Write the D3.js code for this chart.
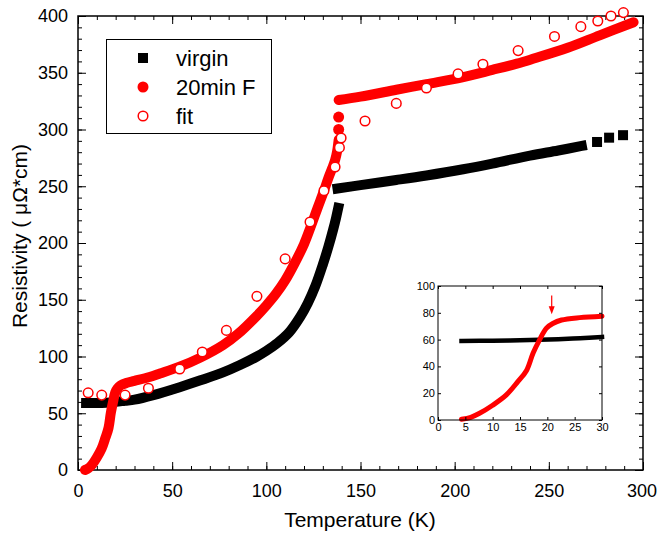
<!DOCTYPE html>
<html>
<head>
<meta charset="utf-8">
<script src="https://cdn.jsdelivr.net/npm/d3@7/dist/d3.min.js"></script>
<style>
  body { margin: 0; background: #fff; }
  text { font-family: "Liberation Sans", Arial, sans-serif; }
</style>
</head>
<body>
<div id="chart-area"></div>
<script>
//1. Data (T in K, resistivity in µΩ*cm)
var virgin_low_T = [4.3, 10, 15, 20, 25, 30, 40, 54, 65, 77, 86, 95, 100, 106, 112, 118, 122, 126, 130, 133, 135.5, 137, 138.2];
var virgin_low_R = [59, 59, 59.3, 60, 61, 62, 66, 73, 79, 86, 92.5, 100, 105, 112, 121, 135, 147, 162, 181, 197, 212, 222, 231];
var virgin_high_T = [137.8, 150, 169, 185, 204.5, 220, 240, 255, 267.5];
var virgin_high_R = [248, 251, 255.5, 259.5, 265, 270, 277, 281.5, 285.5];
var virgin_sparse_T = [275.6, 282, 289.4];
var virgin_sparse_R = [289, 292.8, 295];

var f20_low_T = [3.7, 5.5, 7.6, 10, 12.5, 14.6, 16.2, 17.4, 18.6, 19.8, 21, 22.6, 26, 30, 38, 43.5, 54, 65, 77, 85, 95, 100, 105, 110, 115, 120, 123.5, 127, 130.6, 133, 135, 136.5, 137.5, 138.4];
var f20_low_R = [0, 1.5, 5, 11, 18.7, 28.6, 37, 50, 60, 68.4, 72, 74.6, 76.8, 78.5, 82, 85, 91, 99, 110, 120, 136, 145, 155, 167, 182, 199, 214, 230, 246, 257.5, 266, 273, 280, 291];
var f20_sparse_T = [138.4, 138.4];
var f20_sparse_R = [300, 311];
var f20_high_T = [138.4, 150, 169, 185, 204, 220, 233, 242, 260, 277, 295];
var f20_high_R = [326, 329, 335, 340, 346, 352.5, 358, 362.5, 372, 383, 394.5];

var fit_T = [5.4, 12.6, 25, 37.4, 54, 66, 78.8, 95, 110, 123.2, 130.6, 136.5, 138.8, 139.7, 152.4, 169, 185, 201.8, 215, 233.7, 253, 267, 276, 283, 289.6];
var fit_R = [68, 66, 66, 72, 89, 104, 123, 153, 186, 218.5, 246, 267, 284, 292.5, 307.5, 323, 336.6, 349, 357.5, 369.5, 382, 390.6, 395.6, 400, 403];

// inset (zoom 0-30 K)
var inset_virgin_T = [4.3, 10, 16.8, 22, 26, 30];
var inset_virgin_R = [59, 59.2, 59.7, 60.3, 61, 62];
var inset_f20_T = [4.3, 6, 7.6, 10, 12.5, 14.6, 16.2, 17.4, 18.6, 19.8, 21, 22.6, 25.9, 30];
var inset_f20_R = [0.5, 2, 5, 11, 18.7, 28.6, 37, 50, 60, 68.4, 72, 74.6, 76.4, 77.5];
var arrow_T = 20.8;
var arrow_R = [93, 79];

var x_ticks_major = [0, 50, 100, 150, 200, 250, 300];
var y_ticks_major = [0, 50, 100, 150, 200, 250, 300, 350, 400];
var inset_x_ticks = [0, 5, 10, 15, 20, 25, 30];
var inset_y_ticks = [0, 20, 40, 60, 80, 100];

var legend_labels = ["virgin", "20min F", "fit"];

function pairs(T, R) {
    return T.map(function (t, i) { return [t, R[i]]; });
}

//2. SVG canvas
var svg_width = 657, svg_height = 540;
var svg = d3.select("#chart-area").append("svg")
    .attr("width", svg_width)
    .attr("height", svg_height);

//3. Scales
var x_scaling = d3.scaleLinear().domain([0, 300]).range([78, 643]);
var y_scaling = d3.scaleLinear().domain([0, 400]).range([470, 16]);

var ix = d3.scaleLinear().domain([0, 30]).range([438, 602]);
var iy = d3.scaleLinear().domain([0, 100]).range([420, 286]);

//4. Axes (ticks inward, on all four sides)
function tick_axes(g, xs, ys, xMajor, yMajor, xMinor, yMinor, majLen, minLen, fontSize, xPad, yPad, frameW) {
    var x0 = xs.range()[0], x1 = xs.range()[1], y0 = ys.range()[0], y1 = ys.range()[1];
    var sets = [
        [d3.axisBottom, "translate(0," + y0 + ")", xMajor, xMinor, true, xPad, xs, "x_axis"],
        [d3.axisTop, "translate(0," + y1 + ")", xMajor, xMinor, false, 0, xs, "x_top"],
        [d3.axisLeft, "translate(" + x0 + ",0)", yMajor, yMinor, true, yPad, ys, "y_axis"],
        [d3.axisRight, "translate(" + x1 + ",0)", yMajor, yMinor, false, 0, ys, "y_right"]
    ];
    sets.forEach(function (s) {
        if (s[3]) {
            var ax = g.append("g").attr("transform", s[1])
                .call(s[0](s[6]).tickValues(s[3]).tickSize(-minLen).tickFormat(""));
            ax.select(".domain").remove();
        }
        var axm = g.append("g").attr("class", s[7]).attr("transform", s[1])
            .call(s[0](s[6]).tickValues(s[2]).tickSize(-majLen).tickPadding(s[5])
                .tickFormat(s[4] ? d3.format("d") : ""));
        axm.select(".domain").remove();
        axm.selectAll("text").attr("font-size", fontSize + "px").attr("fill", "#000")
            .style("font-family", "'Liberation Sans', Arial, sans-serif");
    });
    g.selectAll(".tick line").attr("stroke", "#000").attr("stroke-width", 1);
    g.append("rect")
        .attr("x", x0).attr("y", y1)
        .attr("width", x1 - x0).attr("height", y0 - y1)
        .attr("fill", "none").attr("stroke", "#000").attr("stroke-width", frameW);
}

var main_axes = svg.append("g").attr("class", "main_axes");
tick_axes(main_axes, x_scaling, y_scaling,
    x_ticks_major, y_ticks_major,
    d3.range(0, 301, 10), d3.range(0, 401, 10),
    8, 4, 18, 14, 10, 1.5);
// keep the last x label inside the window
main_axes.select(".x_axis").selectAll(".tick text")
    .filter(function (d) { return d == 300; })
    .attr("dx", "-1.5");

//5. Labels
svg.append("text")
    .attr("x", 360).attr("y", 527)
    .attr("text-anchor", "middle")
    .attr("font-size", "21px")
    .text("Temperature (K)");

svg.append("text")
    .attr("transform", "translate(27,236) rotate(-90)")
    .attr("text-anchor", "middle")
    .attr("font-size", "21px")
    .text("Resistivity ( \u03bc\u03a9*cm)");

//6. Data
var line_main = d3.line()
    .x(function (d) { return x_scaling(d[0]); })
    .y(function (d) { return y_scaling(d[1]); })
    .curve(d3.curveCatmullRom.alpha(0.5));

var plot = svg.append("g").attr("class", "plot");

// virgin (dense black squares)
[pairs(virgin_low_T, virgin_low_R), pairs(virgin_high_T, virgin_high_R)].forEach(function (seg) {
    plot.append("path").datum(seg)
        .attr("d", line_main)
        .attr("fill", "none").attr("stroke", "#000")
        .attr("stroke-width", 10).attr("stroke-linecap", "square");
});
plot.selectAll(".sq").data(pairs(virgin_sparse_T, virgin_sparse_R)).enter()
    .append("rect").attr("class", "sq")
    .attr("x", function (d) { return x_scaling(d[0]) - 5; })
    .attr("y", function (d) { return y_scaling(d[1]) - 5; })
    .attr("width", 10).attr("height", 10)
    .attr("fill", "#000");

// 20min F (dense red dots)
[pairs(f20_low_T, f20_low_R), pairs(f20_high_T, f20_high_R)].forEach(function (seg) {
    plot.append("path").datum(seg)
        .attr("d", line_main)
        .attr("fill", "none").attr("stroke", "#ff0000")
        .attr("stroke-width", 10).attr("stroke-linecap", "round");
});
plot.selectAll(".dot").data(pairs(f20_sparse_T, f20_sparse_R)).enter()
    .append("circle").attr("class", "dot")
    .attr("cx", function (d) { return x_scaling(d[0]); })
    .attr("cy", function (d) { return y_scaling(d[1]); })
    .attr("r", 5.5)
    .attr("fill", "#ff0000");

// fit (open circles)
plot.selectAll(".fit").data(pairs(fit_T, fit_R)).enter()
    .append("circle").attr("class", "fit")
    .attr("cx", function (d) { return x_scaling(d[0]); })
    .attr("cy", function (d) { return y_scaling(d[1]); })
    .attr("r", 4.8)
    .attr("fill", "#fff")
    .attr("stroke", "#ff0000").attr("stroke-width", 1.5);

//7. Legend
var legend = svg.append("g").attr("class", "Legend_Holder");
legend.append("rect")
    .attr("x", 106.5).attr("y", 39.5)
    .attr("width", 165).attr("height", 94)
    .attr("fill", "#fff").attr("stroke", "#000").attr("stroke-width", 1);

legend_labels.forEach(function (label, i) {
    var yy = 58 + i * 29;
    var row = legend.append("g").attr("transform", "translate(143," + yy + ")");
    if (i == 0) {
        row.append("rect").attr("x", -5).attr("y", -5).attr("width", 10).attr("height", 10).attr("fill", "#000");
    } else if (i == 1) {
        row.append("circle").attr("r", 5.5).attr("fill", "#ff0000");
    } else {
        row.append("circle").attr("r", 4.8).attr("fill", "#fff")
            .attr("stroke", "#ff0000").attr("stroke-width", 1.5);
    }
    row.append("text")
        .attr("x", 33).attr("y", 8)
        .attr("font-size", "22px")
        .text(label);
});

//8. Inset
var inset = svg.append("g").attr("class", "inset");
inset.append("rect")
    .attr("x", ix.range()[0]).attr("y", iy.range()[1])
    .attr("width", ix.range()[1] - ix.range()[0])
    .attr("height", iy.range()[0] - iy.range()[1])
    .attr("fill", "#fff");

var line_inset = d3.line()
    .x(function (d) { return ix(d[0]); })
    .y(function (d) { return iy(d[1]); })
    .curve(d3.curveCatmullRom.alpha(0.5));

inset.append("path").datum(pairs(inset_virgin_T, inset_virgin_R))
    .attr("d", line_inset)
    .attr("fill", "none").attr("stroke", "#000")
    .attr("stroke-width", 4.5).attr("stroke-linecap", "square");

inset.append("path").datum(pairs(inset_f20_T, inset_f20_R))
    .attr("d", line_inset)
    .attr("fill", "none").attr("stroke", "#ff0000")
    .attr("stroke-width", 5).attr("stroke-linecap", "round");

// arrow marking Tc
inset.append("line")
    .attr("x1", ix(arrow_T)).attr("x2", ix(arrow_T))
    .attr("y1", iy(arrow_R[0])).attr("y2", iy(arrow_R[1]) - 6)
    .attr("stroke", "#ff0000").attr("stroke-width", 1.2);
inset.append("path")
    .attr("d", "M" + (ix(arrow_T) - 3) + "," + (iy(arrow_R[1]) - 8) +
        "L" + (ix(arrow_T) + 3) + "," + (iy(arrow_R[1]) - 8) +
        "L" + ix(arrow_T) + "," + iy(arrow_R[1]) + "Z")
    .attr("fill", "#ff0000");

tick_axes(inset, ix, iy, inset_x_ticks, inset_y_ticks, null, null, 3, 0, 11, 3, 3, 1);
</script>
</body>
</html>
